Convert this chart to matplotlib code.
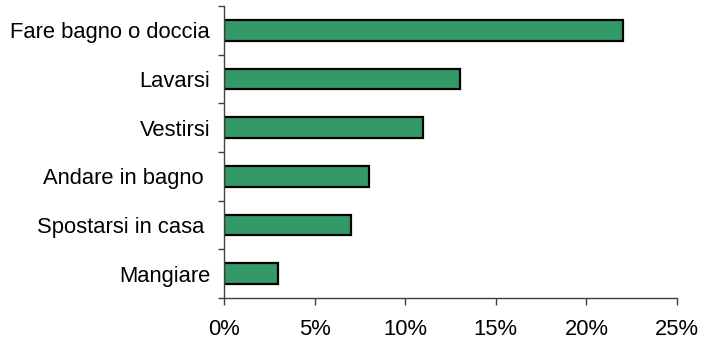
import matplotlib
matplotlib.use("Agg")
import matplotlib.pyplot as plt
from matplotlib.ticker import FuncFormatter

categories = ["Fare bagno o doccia", "Lavarsi", "Vestirsi", "Andare in bagno ",
              "Spostarsi in casa ", "Mangiare"]
values = [22, 13, 11, 8, 7, 3]
x_ticks = [0, 5, 10, 15, 20, 25]

plt.rcParams["font.family"] = ["Liberation Sans", "DejaVu Sans"]

fig = plt.figure(figsize=(7.06, 3.42), dpi=100)
ax = fig.add_axes([0.3173, 0.1287, 0.9589 - 0.3173, 0.9825 - 0.1287])

pos = list(range(len(categories)))[::-1]
ax.barh(pos, values, height=0.42, color="#339966", edgecolor="black", linewidth=1.6)

ax.set_xlim(0, 25)
ax.set_ylim(-0.5, len(categories) - 0.5)
ax.set_xticks(x_ticks)
ax.xaxis.set_major_formatter(FuncFormatter(lambda v, p: f"{v:.0f}%"))

# category boundaries carry the tick marks, centres carry the labels
ax.set_yticks([p + 0.5 for p in range(-1, len(categories))])
ax.set_yticklabels([])
ax.set_yticks(pos, minor=True)
ax.set_yticklabels(categories, minor=True)
ax.tick_params(axis="y", which="minor", length=0, pad=10, labelsize=15.8)
ax.tick_params(axis="y", which="major", length=4, width=1, color="#404040")
ax.tick_params(axis="x", length=5, width=1, color="#404040", pad=10, labelsize=15.8)

for s in ["top", "right"]:
    ax.spines[s].set_visible(False)
for s in ["left", "bottom"]:
    ax.spines[s].set_color("#404040")
    ax.spines[s].set_linewidth(1)

fig.savefig("out.png", dpi=100)
